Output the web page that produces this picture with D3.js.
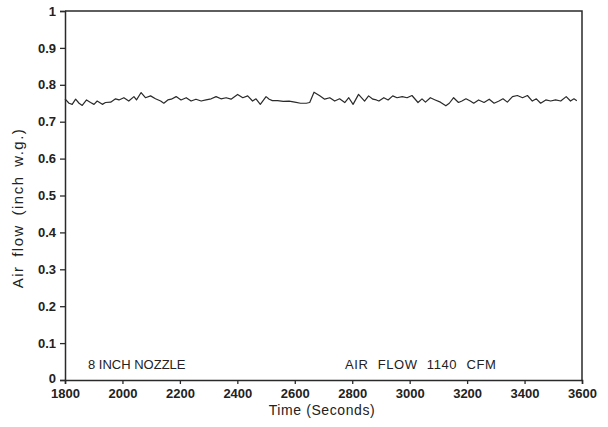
<!DOCTYPE html>
<html>
<head>
<meta charset="utf-8">
<script src="https://cdn.jsdelivr.net/npm/d3@7"></script>
<style>
  html, body { margin: 0; padding: 0; background: #fff; }
  svg { display: block; }
  text { font-family: "Liberation Sans", Arial, Helvetica, sans-serif; fill: #222; }
</style>
</head>
<body>
<svg id="chart" width="608" height="427"></svg>
<script>
// ---- data ----
const times = [1800,1814,1825,1837,1849,1860,1875,1889,1901,1912,1930,1941,1959,1976,1988,2005,2022,2040,2049,2065,2080,2098,2115,2133,2144,2158,
  2170,2187,2204,2222,2239,2256,2274,2291,2309,2326,2343,2361,2378,2401,2419,2436,2453,2465,2480,2500,2511,
  2522,2540,2560,2580,2600,2620,2640,2652,2667,2687,2704,2722,2739,2756,2774,2788,2803,2822,2843,2857,2872,2884,
  2893,2910,2925,2941,2956,2974,2991,3008,3029,3043,3055,3072,3089,3107,3126,3138,3153,3170,3182,3196,3211,3223,3240,
  3259,3277,3294,3311,3325,3340,3358,3375,3393,3410,3427,3441,3456,3474,3491,3508,3526,3545,3560,3572,3582];
const airflow = [0.762,0.750,0.747,0.761,0.750,0.744,0.759,0.752,0.747,0.756,0.747,0.752,0.753,0.762,0.759,0.765,0.756,0.768,0.759,0.779,0.765,0.770,0.762,0.756,0.750,0.759,
  0.761,0.768,0.759,0.765,0.756,0.761,0.756,0.759,0.762,0.768,0.762,0.765,0.761,0.774,0.765,0.770,0.756,0.762,0.747,0.768,0.761,
  0.757,0.757,0.755,0.756,0.753,0.750,0.750,0.752,0.780,0.770,0.761,0.765,0.756,0.762,0.752,0.765,0.747,0.774,0.756,0.770,0.761,0.759,
  0.756,0.765,0.759,0.770,0.765,0.768,0.765,0.771,0.752,0.762,0.753,0.765,0.759,0.753,0.743,0.750,0.765,0.752,0.756,0.762,0.756,0.750,0.759,
  0.752,0.761,0.750,0.756,0.762,0.753,0.768,0.771,0.765,0.771,0.756,0.762,0.750,0.759,0.756,0.759,0.756,0.768,0.756,0.762,0.757];
const xTicks = [1800,2000,2200,2400,2600,2800,3000,3200,3400,3600];
const yTicks = [0,0.1,0.2,0.3,0.4,0.5,0.6,0.7,0.8,0.9,1];
const xLabel = "Time (Seconds)";
const yLabel = "Air flow (inch w.g.)";
const noteLeft = "8 INCH NOZZLE";
const noteRight = "AIR FLOW 1140 CFM";

// ---- layout ----
const mLeft = 65, mRight = 582, mTop = 11, mBottom = 380;
const svg = d3.select("#chart");
const x = d3.scaleLinear().domain([1800, 3600]).range([mLeft, mRight]);
const y = d3.scaleLinear().domain([0, 1]).range([mBottom, mTop]);
const ink = "#2a2a2a";

// frame (top and right)
svg.append("path")
  .attr("d", `M${mLeft},${mTop}H${mRight}V${mBottom}`)
  .attr("fill", "none").attr("stroke", ink).attr("stroke-width", 1.5);

// x axis
const gx = svg.append("g").attr("transform", `translate(0,${mBottom})`)
  .call(d3.axisBottom(x).tickValues(xTicks).tickFormat(d3.format("d")).tickSize(4).tickPadding(5));
// y axis
const gy = svg.append("g").attr("transform", `translate(${mLeft},0)`)
  .call(d3.axisLeft(y).tickValues(yTicks).tickFormat(d => d === 0 ? "0" : d === 1 ? "1" : d3.format(".1f")(d)).tickSize(5).tickPadding(4));

[gx, gy].forEach(g => {
  g.select(".domain").attr("stroke", ink).attr("stroke-width", 1.5);
  g.selectAll(".tick line").attr("stroke", ink).attr("stroke-width", 1.3);
  g.selectAll(".tick text")
    .attr("fill", ink)
    .style("font-family", '"Liberation Sans", Arial, sans-serif')
    .style("font-size", "13px").style("font-weight", "bold");
});
// nudge the "0" label up slightly so it clears the x tick labels
gy.selectAll(".tick").filter(d => d === 0).select("text").attr("dy", "0.2em");

// line
const data = times.map((t, i) => ({t, v: airflow[i]}));
svg.append("path").datum(data)
  .attr("fill", "none").attr("stroke", ink).attr("stroke-width", 1.2)
  .attr("stroke-linejoin", "round")
  .attr("d", d3.line().x(d => x(d.t)).y(d => y(d.v)));

// axis titles
svg.append("text").attr("x", 322).attr("y", 415)
  .attr("text-anchor", "middle").style("font-size", "14px")
  .style("letter-spacing", "0.6px").text(xLabel);
svg.append("text").attr("transform", `translate(23,208) rotate(-90)`)
  .attr("text-anchor", "middle").style("font-size", "15px")
  .style("letter-spacing", "1.5px").style("word-spacing", "3px").text(yLabel);

// annotations
svg.append("text").attr("x", 88).attr("y", 369)
  .style("font-size", "13px").text(noteLeft);
svg.append("text").attr("x", 345).attr("y", 369)
  .style("font-size", "13px").style("letter-spacing", "0.6px").style("word-spacing", "5px").text(noteRight);
</script>
</body>
</html>
